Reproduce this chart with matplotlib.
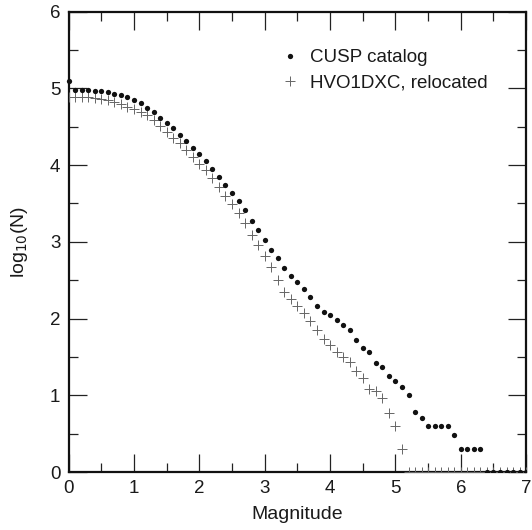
import numpy as np
import matplotlib
matplotlib.use("Agg")
import matplotlib.pyplot as plt
from matplotlib.ticker import MultipleLocator

plt.rcParams['font.family'] = ['Liberation Sans', 'DejaVu Sans']

# Cumulative counts (log10 N) in 0.1 magnitude bins
mag = np.round(np.arange(0, 71) * 0.1, 1)

cusp_log_n = [
    5.10, 4.98, 4.98, 4.98, 4.97, 4.96, 4.95, 4.93, 4.92, 4.89,
    4.85, 4.81, 4.75, 4.69, 4.62, 4.55, 4.48, 4.39, 4.31, 4.22,
    4.14, 4.05, 3.95, 3.85, 3.74, 3.64, 3.53, 3.41, 3.27, 3.15,
    3.03, 2.90, 2.79, 2.66, 2.56, 2.48, 2.38, 2.28, 2.17, 2.09,
    2.04, 1.98, 1.91, 1.85, 1.72, 1.62, 1.56, 1.42, 1.37, 1.25,
    1.18, 1.11, 1.00, 0.78, 0.70, 0.60, 0.60, 0.60, 0.60, 0.48,
    0.30, 0.30, 0.30, 0.30, 0.00, 0.00, 0.00, 0.00, 0.00, 0.00,
    0.00,
]

hvo_log_n = [
    4.89, 4.89, 4.89, 4.89, 4.88, 4.86, 4.85, 4.82, 4.79, 4.76,
    4.73, 4.69, 4.65, 4.59, 4.51, 4.43, 4.35, 4.29, 4.20, 4.11,
    4.02, 3.93, 3.83, 3.71, 3.60, 3.49, 3.38, 3.25, 3.09, 2.96,
    2.82, 2.67, 2.50, 2.35, 2.26, 2.16, 2.07, 1.97, 1.85, 1.74,
    1.65, 1.56, 1.50, 1.44, 1.32, 1.22, 1.08, 1.05, 0.96, 0.77,
    0.60, 0.30, 0.00, 0.00, 0.00, 0.00, 0.00, 0.00, 0.00, 0.00,
    0.00, 0.00, 0.00, 0.00, 0.00, 0.00, 0.00, 0.00, 0.00, 0.00,
    0.00,
]

x_ticks = [0, 1, 2, 3, 4, 5, 6, 7]
y_ticks = [0, 1, 2, 3, 4, 5, 6]

fig = plt.figure(figsize=(5.32, 5.30), dpi=100)
ax = fig.add_axes([0.1290, 0.1094, 0.8600, 0.8686])

cusp = np.array(cusp_log_n)
hvo = np.array(hvo_log_n)

ax.plot(mag, hvo, linestyle='none', marker='+', markersize=7,
        markeredgewidth=0.7, color='#666666', label='HVO1DXC, relocated',
        zorder=3)
ax.plot(mag[1:], cusp[1:], linestyle='none', marker='o', markersize=3.8,
        color='#111111', markeredgewidth=0, label='CUSP catalog', zorder=4)
# first bin sits on the left frame and is drawn unclipped
ax.plot(mag[:1], cusp[:1], linestyle='none', marker='o', markersize=3.8,
        color='#111111', markeredgewidth=0, zorder=4, clip_on=False)

ax.set_xlim(0, 7)
ax.set_ylim(0, 6)
ax.set_xticks(x_ticks)
ax.set_yticks(y_ticks)
ax.xaxis.set_minor_locator(MultipleLocator(0.5))
ax.yaxis.set_minor_locator(MultipleLocator(0.5))
ax.tick_params(which='both', direction='in', top=True, right=True,
               labelsize=13.5, width=0.9, color='#222222', pad=6,
               labelcolor='#1a1a1a')
ax.tick_params(which='major', length=13)
ax.tick_params(which='minor', length=6.5)
for sp in ax.spines.values():
    sp.set_linewidth(1.6)
    sp.set_color('#111111')

ax.set_xlabel('Magnitude', fontsize=14, labelpad=6, color='#1a1a1a')
ax.set_ylabel('log$_{10}$(N)', fontsize=14, labelpad=14, color='#1a1a1a')

handles, labels = ax.get_legend_handles_labels()
leg = ax.legend(handles[::-1], labels[::-1], loc='upper left',
                bbox_to_anchor=(0.45, 0.935), frameon=False, fontsize=13.5,
                handlelength=0.9, handletextpad=0.6, labelspacing=0.45,
                borderaxespad=0, markerscale=1.0)
for t in leg.get_texts():
    t.set_color('#1a1a1a')

fig.savefig('out.png', dpi=100)
